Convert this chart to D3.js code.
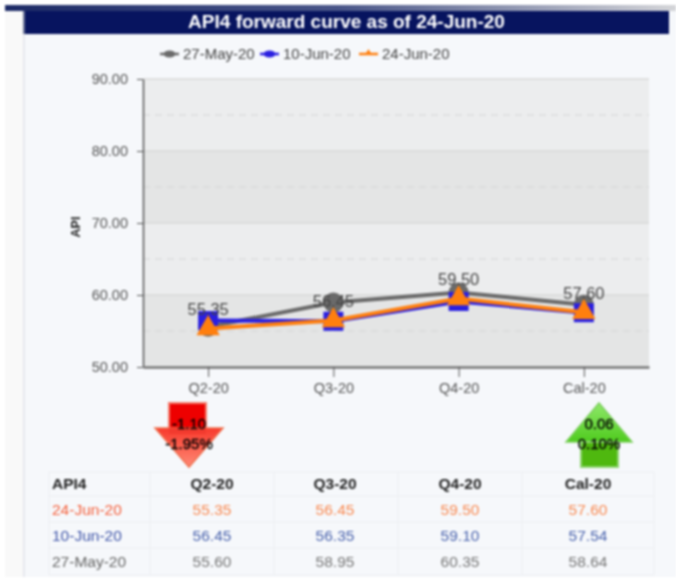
<!DOCTYPE html>
<html>
<head>
<meta charset="utf-8">
<script src="https://cdnjs.cloudflare.com/ajax/libs/d3/7.8.5/d3.min.js"></script>
<style>
  html, body { margin: 0; padding: 0; background: #fff; }
  svg { display: block; font-family: "Liberation Sans", Arial, sans-serif; filter: blur(0.85px); }
</style>
</head>
<body>
<div id="chart"></div>
<script>
var categories = ["Q2-20", "Q3-20", "Q4-20", "Cal-20"];
var may27 = [55.60, 58.95, 60.35, 58.64];
var jun10 = [56.45, 56.35, 59.10, 57.54];
var jun24 = [55.35, 56.45, 59.50, 57.60];
var yTicks = [50, 60, 70, 80, 90];
var yMinor = [55, 65, 75, 85];
var labels = ["27-May-20", "10-Jun-20", "24-Jun-20"];
var changes = [
  { cat: "Q2-20", abs: "-1.10", pct: "-1.95%" },
  { cat: "Cal-20", abs: "0.06", pct: "0.10%" }
];

var svgWidth = 676;
var svgHeight = 582;
var margin = { top: 79, right: 27, bottom: 215, left: 143 };
var width = svgWidth - margin.left - margin.right;
var height = svgHeight - margin.top - margin.bottom;

var svg = d3.select("#chart").append("svg")
  .attr("width", svgWidth)
  .attr("height", svgHeight);

// page chrome
var defs = svg.append("defs");
var grad = defs.append("linearGradient").attr("id", "topbar");
grad.append("stop").attr("offset", "0%").attr("stop-color", "#1c2a66");
grad.append("stop").attr("offset", "50%").attr("stop-color", "#4a5689");
grad.append("stop").attr("offset", "100%").attr("stop-color", "#d4d5d8");
var redGrad = defs.append("linearGradient").attr("id", "redHead").attr("x2", 0).attr("y2", 1);
redGrad.append("stop").attr("offset", "0%").attr("stop-color", "#f8392c");
redGrad.append("stop").attr("offset", "100%").attr("stop-color", "#ff8a76");
var greenGrad = defs.append("linearGradient").attr("id", "greenHead").attr("x2", 0).attr("y2", 1);
greenGrad.append("stop").attr("offset", "0%").attr("stop-color", "#8fe86a");
greenGrad.append("stop").attr("offset", "100%").attr("stop-color", "#4fcb1e");

svg.append("rect").attr("x", 5).attr("y", 11).attr("width", 18).attr("height", 566).attr("fill", "#f9f9f9");
svg.append("rect").attr("x", 23).attr("y", 11).attr("width", 653).attr("height", 566).attr("fill", "#f6f8fb");
svg.append("rect").attr("x", 23).attr("y", 11).attr("width", 2).attr("height", 566).attr("fill", "#e6e8ee");
svg.append("rect").attr("x", 5).attr("y", 5).attr("width", 671).attr("height", 6).attr("fill", "url(#topbar)");
svg.append("rect").attr("x", 23).attr("y", 11).attr("width", 646).attr("height", 23).attr("fill", "#07145f");
svg.append("rect").attr("x", 23).attr("y", 11).attr("width", 2).attr("height", 23).attr("fill", "#6a7396");
svg.append("text").attr("x", 346.5).attr("y", 28).attr("text-anchor", "middle")
  .attr("font-size", 19).attr("font-weight", "bold").attr("fill", "#fff")
  .text("API4 forward curve as of 24-Jun-20");

var X = svg.append("g").attr("transform", `translate(${margin.left}, ${margin.top})`);

var xScale = d3.scalePoint().domain(categories).range([0, width]).padding(0.52);
var yScale = d3.scaleLinear().domain([50, 90]).range([height, 0]);

// plot bands
var bands = yTicks.slice(0, -1);
X.selectAll("rect.band").data(bands).enter().append("rect")
  .attr("class", "band")
  .attr("x", 0)
  .attr("width", width)
  .attr("y", d => yScale(d + 10))
  .attr("height", d => yScale(d) - yScale(d + 10))
  .attr("fill", (d, i) => i % 2 == 0 ? "#e4e5e5" : "#ecedee");

X.selectAll("line.minor").data(yMinor).enter().append("line")
  .attr("class", "minor")
  .attr("x1", 0).attr("x2", width)
  .attr("y1", d => yScale(d)).attr("y2", d => yScale(d))
  .attr("stroke", "#d3d4d5")
  .attr("stroke-dasharray", "7,5");

X.selectAll("line.major").data(yTicks.slice(1)).enter().append("line")
  .attr("class", "major")
  .attr("x1", 0).attr("x2", width)
  .attr("y1", d => yScale(d)).attr("y2", d => yScale(d))
  .attr("stroke", "#d8d9d9")
  .attr("stroke-width", 1.5);

// axes
var leftAxis = d3.axisLeft(yScale).tickValues(yTicks).tickFormat(d3.format(".2f")).tickSize(6).tickSizeOuter(0);
var bottomAxis = d3.axisBottom(xScale).tickSize(10).tickSizeOuter(0);

var gy = X.append("g").call(leftAxis);
gy.selectAll("text").attr("font-size", 14.5).attr("font-family", "inherit").attr("fill", "#555").attr("x", -15);
gy.selectAll("line").attr("stroke", "#555");
gy.select(".domain").attr("stroke", "#555").attr("stroke-width", 1.5);

var gx = X.append("g").attr("transform", `translate(0, ${height})`).call(bottomAxis);
gx.selectAll("text").attr("font-size", 14.5).attr("font-family", "inherit").attr("fill", "#555").attr("y", 16);
gx.selectAll("line").attr("stroke", "#555");
gx.select(".domain").attr("stroke", "#777").attr("stroke-width", 2.5);

X.append("text")
  .attr("transform", "rotate(-90)")
  .attr("x", -(height / 2) - 4)
  .attr("y", -63)
  .attr("text-anchor", "middle")
  .attr("font-size", 12.5)
  .attr("font-weight", "bold")
  .attr("fill", "#222")
  .text("API");

// series
var line = d3.line().x((d, i) => xScale(categories[i])).y(d => yScale(d));

X.append("path").datum(may27).attr("d", line).attr("fill", "none").attr("stroke", "#6a6a6a").attr("stroke-width", 4);
X.selectAll("circle.may").data(may27).enter().append("circle")
  .attr("class", "may")
  .attr("cx", (d, i) => xScale(categories[i]))
  .attr("cy", d => yScale(d))
  .attr("r", 10)
  .attr("fill", "#6a6a6a");

X.append("path").datum(jun10).attr("d", line).attr("fill", "none").attr("stroke", "#2a1fe0").attr("stroke-width", 4);
X.selectAll("rect.jun10").data(jun10).enter().append("rect")
  .attr("class", "jun10")
  .attr("x", (d, i) => xScale(categories[i]) - 10)
  .attr("y", d => yScale(d) - 9.5)
  .attr("width", 20)
  .attr("height", 19)
  .attr("fill", "#2a1fe0");

X.append("path").datum(jun24).attr("d", line).attr("fill", "none").attr("stroke", "#ff7f0e").attr("stroke-width", 4);
var tri = d3.symbol().type(d3.symbolTriangle).size(235);
X.selectAll("path.jun24").data(jun24).enter().append("path")
  .attr("class", "jun24")
  .attr("d", tri)
  .attr("transform", (d, i) => `translate(${xScale(categories[i])}, ${yScale(d)})`)
  .attr("fill", "#ff7f0e");

X.selectAll("text.val").data(jun24).enter().append("text")
  .attr("class", "val")
  .attr("x", (d, i) => xScale(categories[i]))
  .attr("y", d => yScale(d) - 13.5)
  .attr("text-anchor", "middle")
  .attr("font-size", 16.5)
  .attr("fill", "#444")
  .text(d => d3.format(".2f")(d));

// legend
var legendX = [160, 260, 359];
var legendColor = ["#6a6a6a", "#2a1fe0", "#ff7f0e"];
var lg = svg.selectAll("g.legend").data(labels).enter().append("g")
  .attr("class", "legend")
  .attr("transform", (d, i) => `translate(${legendX[i]}, 54)`);
lg.append("line").attr("x1", 0).attr("x2", 19).attr("stroke", (d, i) => legendColor[i]).attr("stroke-width", 2.5);
lg.each(function (d, i) {
  var g = d3.select(this);
  if (i < 2) g.append("ellipse").attr("cx", 9.5).attr("rx", 6).attr("ry", 3.5).attr("fill", legendColor[i]);
  if (i == 2) g.append("path").attr("d", d3.symbol().type(d3.symbolTriangle).size(22)).attr("transform", "translate(9.5,-1)").attr("fill", legendColor[i]);
});
lg.append("text").attr("x", 23).attr("y", 5).attr("font-size", 15).attr("fill", "#444").text(d => d);

// change arrows
var arrowCx = { "Q2-20": 189, "Cal-20": 599 };
var ar = svg.selectAll("g.arrow").data(changes).enter().append("g")
  .attr("class", "arrow")
  .attr("transform", d => `translate(${arrowCx[d.cat]}, 0)`);
ar.each(function (d) {
  var g = d3.select(this);
  if (d.abs[0] == "-") {
    g.append("rect").attr("x", -20).attr("y", 403).attr("width", 37).attr("height", 26)
      .attr("fill", "#ee0000").attr("stroke", "#f47a6a").attr("stroke-width", 2);
    g.append("path").attr("d", "M-34,428 L34,428 L0,467 Z")
      .attr("fill", "url(#redHead)").attr("stroke", "#f0704e").attr("stroke-width", 1.5);
    g.append("path").attr("d", "M-20,428 L17,428 L17,434 L-20,434 Z").attr("fill", "#f33a2e");
  } else {
    g.append("path").attr("d", "M0,403 L33,442 L-33,442 Z")
      .attr("fill", "url(#greenHead)").attr("stroke", "#7ccf5c").attr("stroke-width", 1.5);
    g.append("rect").attr("x", -18).attr("y", 442).attr("width", 37).attr("height", 25)
      .attr("fill", "#4fb80f").attr("stroke", "#8fd572").attr("stroke-width", 2);
  }
  g.selectAll("text.chg").data([[d.abs, 428.5], [d.pct, 449]]).enter().append("text")
    .attr("class", "chg")
    .attr("y", p => p[1])
    .attr("text-anchor", "middle")
    .attr("font-size", 15)
    .attr("fill", "#000")
    .attr("stroke", "#000")
    .attr("stroke-width", 0.35)
    .text(p => p[0]);
});

// table
var colEdges = [49, 150, 274, 398, 522, 654];
var colText = [212, 335, 460, 588];
var rowEdges = [472, 496, 522, 548, 575];
var rows = [
  { name: labels[2], vals: jun24, color: "#f5603c", valColor: "#f98a52" },
  { name: labels[1], vals: jun10, color: "#3f55a8", valColor: "#4a63ad" },
  { name: labels[0], vals: may27, color: "#666", valColor: "#777" }
];
var t = svg.append("g");
t.selectAll("line.h").data(rowEdges).enter().append("line")
  .attr("x1", colEdges[0]).attr("x2", colEdges[5])
  .attr("y1", d => d).attr("y2", d => d)
  .attr("stroke", "#eceef2");
t.selectAll("line.v").data(colEdges).enter().append("line")
  .attr("y1", rowEdges[0]).attr("y2", rowEdges[4])
  .attr("x1", d => d).attr("x2", d => d)
  .attr("stroke", "#eceef2");
t.append("text").attr("x", 52).attr("y", 488.5).attr("font-size", 15.5).attr("font-weight", "bold").attr("fill", "#222").text("API4");
t.selectAll("text.hd").data(categories).enter().append("text")
  .attr("class", "hd")
  .attr("x", (d, i) => colText[i]).attr("y", 488.5)
  .attr("text-anchor", "middle").attr("font-size", 15.5).attr("font-weight", "bold").attr("fill", "#222")
  .text(d => d);
rows.forEach(function (r, j) {
  var y = 514.5 + j * 26;
  t.append("text").attr("x", 52).attr("y", y).attr("font-size", 15.5).attr("fill", r.color).text(r.name);
  t.selectAll("text.r" + j).data(r.vals).enter().append("text")
    .attr("class", "r" + j)
    .attr("x", (d, i) => colText[i]).attr("y", y)
    .attr("text-anchor", "middle").attr("font-size", 15.5).attr("fill", r.valColor)
    .text(d => d3.format(".2f")(d));
});
</script>
</body>
</html>
